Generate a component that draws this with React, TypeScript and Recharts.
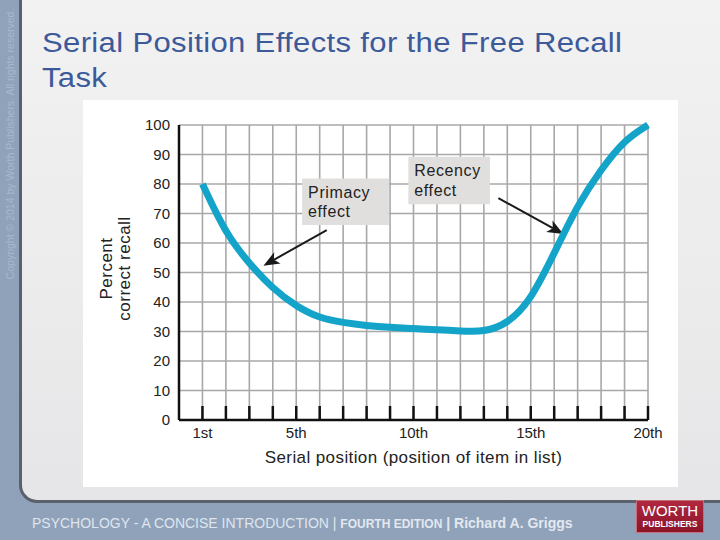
import React from "react";
import {
  LineChart,
  Line,
  XAxis,
  YAxis,
  CartesianGrid,
  ReferenceArea,
  ReferenceLine,
} from "recharts";

const FONT = '"Liberation Sans", Arial, Helvetica, sans-serif';

// serial position of each item in the list
const positions = [1, 2, 3, 4, 5, 6, 7, 8, 9, 10, 11, 12, 13, 14, 15, 16, 17, 18, 19, 20];
// percent correct recall
const recallPercent = [80, 63, 53, 44.5, 38.5, 34.5, 33, 32, 31.4, 31, 30.6, 30.2, 29.8, 32.5, 40.5, 56.5, 73, 85, 95, 100];
const yTicks = [0, 10, 20, 30, 40, 50, 60, 70, 80, 90, 100];
const positionLabels: Record<number, string> = {
  1: "1st",
  5: "5th",
  10: "10th",
  15: "15th",
  20: "20th",
};

const data = positions.map((p, i) => ({ position: p, recall: recallPercent[i] }));

function PositionTick(props: any) {
  const { x, y, payload } = props;
  const label = positionLabels[payload.value];
  return (
    <g>
      <line x1={x} x2={x} y1={y - 14} y2={y} stroke="#111" strokeWidth={2.5} />
      {label && (
        <text x={x} y={y + 18} textAnchor="middle" fontSize={15} fill="#222" fontFamily={FONT}>
          {label}
        </text>
      )}
    </g>
  );
}

function Arrow(props: any) {
  const { x1, y1, x2, y2 } = props;
  const dx = x2 - x1;
  const dy = y2 - y1;
  const len = Math.hypot(dx, dy) || 1;
  const ux = dx / len;
  const uy = dy / len;
  const head = 16;
  const half = 6.5;
  const bx = x2 - ux * head;
  const by = y2 - uy * head;
  const px = -uy;
  const py = ux;
  const nx = bx + ux * 4;
  const ny = by + uy * 4;
  return (
    <g>
      <line x1={x1} y1={y1} x2={nx} y2={ny} stroke="#1a1a1a" strokeWidth={2} />
      <polygon
        points={`${x2},${y2} ${bx + px * half},${by + py * half} ${nx},${ny} ${bx - px * half},${by - py * half}`}
        fill="#1a1a1a"
      />
    </g>
  );
}

const boxLabel = (line1: string, line2: string) => (props: any) => {
  const vb = props.viewBox || { x: 0, y: 0 };
  const style = { fontSize: 16, fill: "#222", fontFamily: FONT, letterSpacing: 0.6 };
  return (
    <g>
      <text x={vb.x + 6} y={vb.y + 19.5} {...style}>
        {line1}
      </text>
      <text x={vb.x + 6} y={vb.y + 39} {...style}>
        {line2}
      </text>
    </g>
  );
};

const renderYTitle = (props: any) => {
  const vb = props.viewBox || { x: 36, y: 25, width: 60, height: 295 };
  const cy = vb.y + vb.height / 2 - 4;
  const style = { fontSize: 17, fill: "#222", fontFamily: FONT, letterSpacing: 0.5, textAnchor: "middle" as const };
  const x1 = vb.x - 7.5;
  const x2 = vb.x + 10.5;
  return (
    <g>
      <text x={x1} y={cy} transform={`rotate(-90 ${x1} ${cy})`} {...style}>
        Percent
      </text>
      <text x={x2} y={cy} transform={`rotate(-90 ${x2} ${cy})`} {...style}>
        correct recall
      </text>
    </g>
  );
};

const renderXTitle = (props: any) => {
  const vb = props.viewBox || { x: 96, y: 320, width: 469, height: 50 };
  return (
    <text
      x={vb.x + vb.width / 2}
      y={vb.y + 43}
      textAnchor="middle"
      fontSize={17}
      letterSpacing={0.4}
      fill="#222"
      fontFamily={FONT}
    >
      Serial position (position of item in list)
    </text>
  );
};

export default function App() {
  return (
    <div
      style={{
        position: "absolute",
        left: 0,
        top: 0,
        width: 720,
        height: 540,
        overflow: "hidden",
        background: "#8fa2ba",
        fontFamily: FONT,
      }}
    >
      {/* copyright strip */}
      <div
        style={{
          position: "absolute",
          left: 10 - 140,
          top: 144 - 7,
          width: 280,
          height: 14,
          lineHeight: "14px",
          fontSize: 10.5,
          color: "#a9b8cc",
          textAlign: "center",
          transform: "rotate(-90deg)",
          whiteSpace: "nowrap",
        }}
      >
        Copyright © 2014 by Worth Publishers. All rights reserved.
      </div>

      {/* main slide panel */}
      <div
        style={{
          position: "absolute",
          left: 19,
          top: -4,
          width: 710,
          height: 507,
          background: "linear-gradient(180deg, #f2f2f3 0%, #ebebec 60%, #e6e6e8 100%)",
          borderLeft: "3px solid #5b606c",
          borderBottom: "3px solid #5b606c",
          borderBottomLeftRadius: 18,
          boxSizing: "border-box",
        }}
      />

      {/* title */}
      <div
        style={{
          position: "absolute",
          left: 42,
          top: 26,
          fontSize: 27,
          lineHeight: "35px",
          color: "#3c5a9a",
          letterSpacing: 0.3,
          transform: "scaleX(1.15)",
          transformOrigin: "left top",
          whiteSpace: "nowrap",
        }}
      >
        Serial Position Effects for the Free Recall
        <br />
        Task
      </div>

      {/* chart */}
      <div
        style={{
          position: "absolute",
          left: 83,
          top: 100,
          width: 595,
          height: 387,
          background: "#ffffff",
        }}
      >
        <LineChart
          width={595}
          height={387}
          data={data}
          margin={{ top: 25, right: 30, bottom: 17, left: 36 }}
        >
          <CartesianGrid stroke="#a8a8a8" strokeWidth={1.6} />
          <XAxis
            dataKey="position"
            type="number"
            domain={[0, 20]}
            ticks={positions}
            interval={0}
            height={50}
            tickSize={0}
            tickMargin={0}
            tick={<PositionTick />}
            axisLine={{ stroke: "#111", strokeWidth: 2.5 }}
            label={{ content: renderXTitle }}
          />
          <YAxis
            type="number"
            domain={[0, 100]}
            ticks={yTicks}
            interval={0}
            width={60}
            tickSize={0}
            tickMargin={9}
            tickLine={false}
            tick={{ fontSize: 15, fill: "#222", fontFamily: FONT }}
            axisLine={{ stroke: "#111", strokeWidth: 2.5 }}
            label={{ content: renderYTitle }}
          />
          <ReferenceArea
            x1={5.25}
            x2={8.95}
            y1={66.1}
            y2={81.9}
            fill="#e1dfdd"
            fillOpacity={1}
            stroke="none"
            label={boxLabel("Primacy", "effect")}
          />
          <ReferenceArea
            x1={9.78}
            x2={13.26}
            y1={73.1}
            y2={89.25}
            fill="#e1dfdd"
            fillOpacity={1}
            stroke="none"
            label={boxLabel("Recency", "effect")}
          />
          <ReferenceLine
            segment={[
              { x: 6.3, y: 64.4 },
              { x: 3.6, y: 52.3 },
            ]}
            shape={Arrow}
          />
          <ReferenceLine
            segment={[
              { x: 13.62, y: 75.2 },
              { x: 16.39, y: 63.05 },
            ]}
            shape={Arrow}
          />
          <Line
            type="basis"
            dataKey="recall"
            stroke="#14a4c9"
            strokeWidth={7}
            dot={false}
            activeDot={false}
            isAnimationActive={false}
          />
        </LineChart>
      </div>

      {/* footer */}
      <div
        style={{
          position: "absolute",
          left: 32,
          top: 514,
          fontSize: 14,
          lineHeight: "18px",
          color: "#e3e8ef",
          whiteSpace: "nowrap",
        }}
      >
        <span style={{ color: "#dfe5ee" }}>PSYCHOLOGY - A CONCISE INTRODUCTION</span>
        <span> | </span>
        <span style={{ fontWeight: 700, fontSize: 12 }}>FOURTH EDITION</span>
        <span style={{ fontWeight: 700 }}> | Richard A. Griggs</span>
      </div>

      {/* publisher logo */}
      <div
        style={{
          position: "absolute",
          left: 636,
          top: 500,
          width: 68,
          height: 33,
          background: "linear-gradient(180deg, #b02840 0%, #8c1429 100%)",
          border: "1px solid #c66f7c",
          boxSizing: "border-box",
          color: "#ffffff",
          textAlign: "center",
        }}
      >
        <div style={{ fontSize: 15, lineHeight: "16px", marginTop: 2 }}>WORTH</div>
        <div style={{ fontSize: 8.5, lineHeight: "10px", fontWeight: 700 }}>PUBLISHERS</div>
      </div>
    </div>
  );
}
